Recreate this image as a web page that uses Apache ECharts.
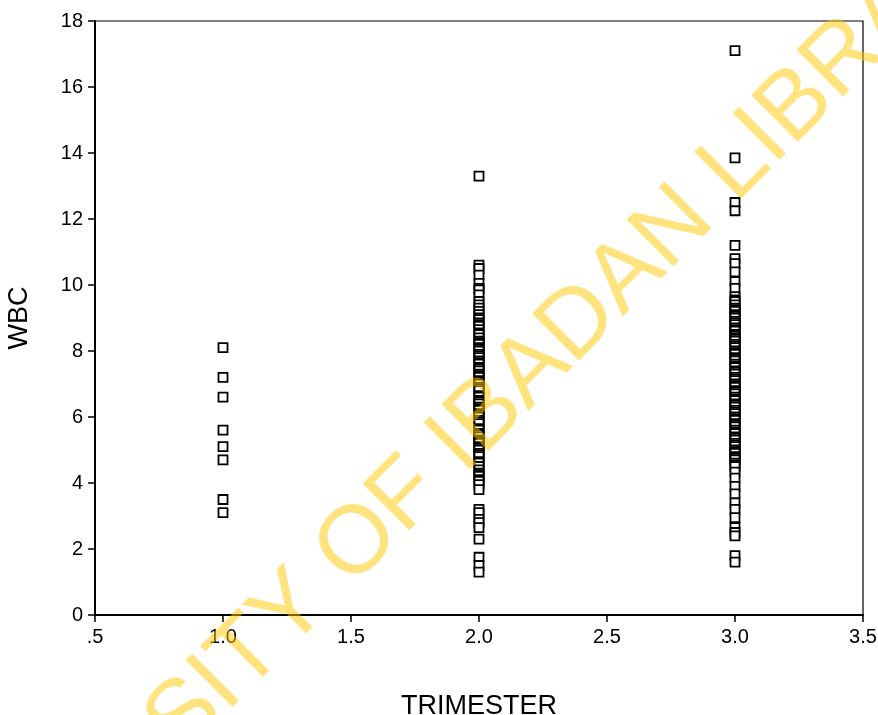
<!DOCTYPE html>
<html>
<head>
<meta charset="utf-8">
<script src="https://cdn.jsdelivr.net/npm/echarts@6/dist/echarts.min.js"></script>
<style>
  html, body { margin: 0; padding: 0; background: #fff; }
  #chart { width: 878px; height: 715px; }
</style>
</head>
<body>
<div id="chart"></div>
<script>
// WBC readings per trimester
const trimester1 = [8.1, 7.2, 6.6, 5.6, 5.1, 4.7, 3.5, 3.1];
const trimester2 = [
  13.3, 10.6, 10.5, 10.3, 10.05, 9.9, 9.85, 9.7, 9.5, 9.4, 9.3, 9.2, 9.1, 9.0, 8.95,
  8.85, 8.8, 8.75, 8.65, 8.55, 8.5, 8.4, 8.3, 8.25, 8.2, 8.1, 8.05, 8.0, 7.9, 7.85,
  7.8, 7.7, 7.65, 7.6, 7.5, 7.45, 7.4, 7.3, 7.25, 7.2, 7.1, 7.05, 7.0, 6.9, 6.85,
  6.8, 6.65, 6.6, 6.5, 6.45, 6.4, 6.3, 6.25, 6.2, 6.1, 6.05, 6.0, 5.9, 5.85, 5.8,
  5.65, 5.6, 5.5, 5.45, 5.4, 5.3, 5.25, 5.2, 5.1, 5.05, 5.0, 4.9, 4.85, 4.8, 4.65,
  4.6, 4.5, 4.4, 4.3, 4.25, 4.2, 4.1, 4.05, 3.95, 3.8,
  3.2, 3.1, 2.9, 2.8, 2.65, 2.3, 1.75, 1.5, 1.3
];
const trimester3 = [
  17.1, 13.85, 12.5, 12.25, 11.2, 10.8, 10.65, 10.4, 10.1, 9.9, 9.65, 9.55, 9.5, 9.4,
  9.3, 9.25, 9.2, 9.1, 9.05, 9.0, 8.9, 8.85, 8.8, 8.7, 8.65, 8.6, 8.5, 8.45, 8.4,
  8.35, 8.3, 8.2, 8.15, 8.1, 8.0, 7.95, 7.9, 7.8, 7.75, 7.7, 7.6, 7.55, 7.5, 7.4,
  7.35, 7.3, 7.2, 7.15, 7.1, 7.0, 6.95, 6.9, 6.8, 6.75, 6.7, 6.6, 6.55, 6.5, 6.4,
  6.35, 6.3, 6.2, 6.15, 6.1, 6.0, 5.95, 5.9, 5.8, 5.75, 5.7, 5.6, 5.55, 5.5, 5.4,
  5.35, 5.3, 5.2, 5.15, 5.1, 5.0, 4.95, 4.9, 4.8, 4.75, 4.7, 4.6, 4.55, 4.5,
  4.33, 4.15, 3.9, 3.67, 3.4, 3.2, 2.95, 2.65, 2.5, 2.4, 1.8, 1.6
];
const xTicks = [0.5, 1.0, 1.5, 2.0, 2.5, 3.0, 3.5];
const watermark = 'UNIVERSITY OF IBADAN LIBRARY';

const points = []
  .concat(trimester1.map((v) => [1, v]))
  .concat(trimester2.map((v) => [2, v]))
  .concat(trimester3.map((v) => [3, v]));

const chart = echarts.init(document.getElementById('chart'));
const font = 'Liberation Sans, Arial, Helvetica, sans-serif';

chart.setOption({
  animation: false,
  grid: {
    left: 95, right: 15, top: 21, bottom: 100,
    outerBoundsMode: 'none',
    containLabel: false,
    show: true, borderColor: '#000', borderWidth: 1.2, backgroundColor: 'transparent'
  },
  xAxis: {
    type: 'value',
    min: xTicks[0],
    max: xTicks[xTicks.length - 1],
    interval: 0.5,
    name: 'TRIMESTER',
    nameLocation: 'middle',
    nameGap: 78,
    nameTextStyle: { fontFamily: font, fontSize: 27, color: '#000' },
    axisLine: { lineStyle: { color: '#000', width: 2 } },
    axisTick: { show: true, length: 7, lineStyle: { color: '#000', width: 1.5 } },
    axisLabel: {
      fontFamily: font, fontSize: 20, color: '#000', margin: 12,
      formatter: (v) => (v === 0.5 ? '.5' : v.toFixed(1))
    },
    splitLine: { show: false }
  },
  yAxis: {
    type: 'value',
    min: 0, max: 18, interval: 2,
    name: 'WBC',
    nameLocation: 'middle',
    nameGap: 62,
    nameRotate: 90,
    nameTextStyle: { fontFamily: font, fontSize: 27, color: '#000' },
    axisLine: { show: true, lineStyle: { color: '#000', width: 2 } },
    axisTick: { show: true, length: 7, lineStyle: { color: '#000', width: 1.5 } },
    axisLabel: { fontFamily: font, fontSize: 20, color: '#000', margin: 12 },
    splitLine: { show: false }
  },
  series: [{
    type: 'scatter',
    data: points,
    symbol: 'rect',
    symbolSize: 9,
    itemStyle: { color: '#fff', borderColor: '#000', borderWidth: 1.8, opacity: 1 }
  }],
  graphic: [{
    type: 'text',
    x: 456, y: 446,
    rotation: Math.PI / 4,
    z: 100,
    silent: true,
    style: {
      text: watermark,
      fontFamily: font,
      fontSize: 96,
      fontWeight: 'normal',
      fill: 'rgba(255, 200, 0, 0.5)',
      align: 'center',
      verticalAlign: 'middle'
    }
  }]
});
</script>
</body>
</html>
